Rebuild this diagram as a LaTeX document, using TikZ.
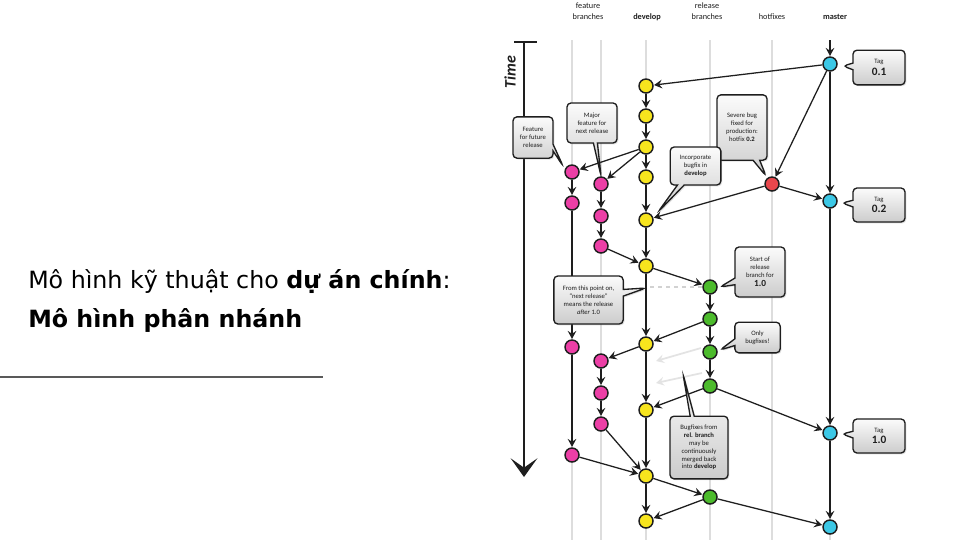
\documentclass[tikz,border=0pt]{standalone}
\usepackage{fontspec}
\setmainfont{DejaVu Sans}
\newfontfamily\dgfont{Carlito}
\usetikzlibrary{arrows.meta,shapes.callouts,shadows}

\definecolor{cyanC}{HTML}{3CC8E6}
\definecolor{yelC}{HTML}{F7E51E}
\definecolor{pinkC}{HTML}{EC3FA6}
\definecolor{redC}{HTML}{E8474C}
\definecolor{grnC}{HTML}{4CBB2C}
\definecolor{laneC}{HTML}{DDDDDD}
\definecolor{ink}{HTML}{1E1E1E}

\tikzset{
  commit/.style={circle, draw=ink, line width=1.1pt, minimum size=10.5pt, inner sep=0pt},
  devc/.style={commit, fill=yelC},
  featc/.style={commit, fill=pinkC},
  relc/.style={commit, fill=grnC},
  hotc/.style={commit, fill=redC},
  mastc/.style={commit, fill=cyanC},
  flow/.style={draw=ink, line width=0.95pt, -{Stealth[length=6pt,width=6.5pt,inset=2.2pt]}, shorten >=0.3pt},
  ghost/.style={draw=gray!22, line width=1.3pt, -{Stealth[length=6pt,width=6.5pt,inset=2.2pt]}},
  lanebar/.style={draw=laneC, line width=1.5pt},
  note/.style={rectangle callout, rounded corners=3pt, draw=ink, line width=1pt,
    top color=gray!3, bottom color=gray!40, align=center, text=ink,
    font=\dgfont\fontsize{5}{5.9}\selectfont, inner sep=1pt,
    callout pointer width=5pt,
    drop shadow={opacity=0.25, shadow xshift=1pt, shadow yshift=-1pt}},
  head/.style={font=\dgfont\fontsize{6.2}{7.8}\selectfont, align=center, text=ink}
}
\newcommand{\tagbig}[1]{{\bfseries\fontsize{8.5}{9}\selectfont #1}}

\begin{document}
\begin{tikzpicture}[x=0.75pt, y=-0.75pt]
\fill[white] (0,0) rectangle (960,540);
\useasboundingbox (0,0) rectangle (960,540);

% left title
\node[anchor=base west, inner sep=0pt, font=\fontsize{17.8}{23}\selectfont] (t1) at (28,288) {Mô hình kỹ thuật cho \textbf{dự án chính}:};
\node[anchor=base west, inner sep=0pt, font=\fontsize{17.8}{23}\selectfont\bfseries] (t2) at (28,327) {Mô hình phân nhánh};
\coordinate (ruleA) at (0,377);
\coordinate (ruleB) at (323,377);
\draw[gray!70!black, line width=0.8pt] (ruleA) -- (ruleB);

% headers
\node[head] (hfeat) at (588,11) {feature\\branches};
\node[head, font=\dgfont\bfseries\fontsize{6.2}{7.8}\selectfont] (hdev) at (647,17) {develop};
\node[head] (hrel) at (707,11) {release\\branches};
\node[head] (hhot) at (772,17) {hotfixes};
\node[head, font=\dgfont\bfseries\fontsize{6.2}{7.8}\selectfont] (hmas) at (835,17) {master};

% lanes
\foreach \lx/\ln in {572/la,601/lb,646/lc,710/ld,772/le,830/lf}{
  \coordinate (\ln top) at (\lx,40);
  \coordinate (\ln bot) at (\lx,540);
  \draw[lanebar] (\ln top) -- (\ln bot);
}

% time axis
\coordinate (tL) at (514,42);
\coordinate (tR) at (537,42);
\coordinate (tTop) at (524,42);
\coordinate (tBot) at (524,477);
\draw[ink, line width=2.2pt] (tL) -- (tR);
\draw[ink, line width=2pt, -{Stealth[length=14pt,width=20pt,inset=7pt]}] (tTop) -- (tBot);
\node[rotate=90, font=\dgfont\bfseries\itshape\fontsize{12}{12}\selectfont, text=ink] (time) at (510,72) {Time};

% commits: master
\node[mastc] (m1) at (830,64) {};
\node[mastc] (m2) at (830,201) {};
\node[mastc] (m3) at (830,433) {};
\node[mastc] (m4) at (830,527) {};
% hotfix
\node[hotc] (hf) at (772,184) {};
% develop
\foreach \i/\yy in {1/86,2/116,3/147,4/177,5/220,6/266,7/344,8/410,9/476,10/521}{
  \node[devc] (d\i) at (646,\yy) {};
}
% feature A
\foreach \i/\yy in {1/172,2/203,3/347,4/455}{
  \node[featc] (fa\i) at (572,\yy) {};
}
% feature B
\foreach \i/\yy in {1/184,2/216,3/246,4/361,5/393,6/424}{
  \node[featc] (fb\i) at (601,\yy) {};
}
% release
\foreach \i/\yy in {1/287,2/319,3/352,4/386,5/497}{
  \node[relc] (r\i) at (710,\yy) {};
}

% connectors
\coordinate (mtop) at (830,40);
\draw[flow] (mtop) -- (m1);
\draw[flow] (m1) -- (d1);
\draw[flow] (m1) -- (m2);
\draw[flow] (m1) -- (hf);
\foreach \a/\b in {1/2,2/3,3/4,4/5,5/6,6/7,7/8,8/9,9/10}{
  \draw[flow] (d\a) -- (d\b);
}
\draw[flow] (d3) -- (fa1);
\draw[flow] (d3) -- (fb1);
\draw[flow] (fa1) -- (fa2);
\draw[flow] (fa2) -- (fa3);
\draw[flow] (fa3) -- (fa4);
\draw[flow] (fa4) -- (d9);
\draw[flow] (fb1) -- (fb2);
\draw[flow] (fb2) -- (fb3);
\draw[flow] (fb3) -- (d6);
\draw[flow] (d7) -- (fb4);
\draw[flow] (fb4) -- (fb5);
\draw[flow] (fb5) -- (fb6);
\draw[flow] (fb6) -- (d9);
\draw[flow] (hf) -- (d5);
\draw[flow] (hf) -- (m2);
\draw[flow] (d6) -- (r1);
\draw[flow] (r1) -- (r2);
\draw[flow] (r2) -- (r3);
\draw[flow] (r3) -- (r4);
\draw[flow] (r2) -- (d7);
\draw[flow] (r4) -- (d8);
\draw[flow] (r4) -- (m3);
\draw[flow] (m2) -- (m3);
\draw[flow] (m3) -- (m4);
\draw[flow] (d9) -- (r5);
\draw[flow] (r5) -- (d10);
\draw[flow] (r5) -- (m4);

% ghost merges and dashed marker
\coordinate (g1s) at (701,348);
\coordinate (g1e) at (656,361);
\coordinate (g2s) at (702,373);
\coordinate (g2e) at (656,383);
\draw[ghost] (g1s) -- (g1e);
\draw[ghost] (g2s) -- (g2e);
\coordinate (dash0) at (650,287);
\draw[gray!35, line width=1pt, dashed] (dash0) -- (r1);

% callout pointer tips
\coordinate (p1) at (843,66);
\coordinate (p2) at (563,166);
\coordinate (p3) at (601,176);
\coordinate (p4) at (766,176);
\coordinate (p5) at (658,212);
\coordinate (p6) at (842,203);
\coordinate (p7) at (720,287);
\coordinate (p8) at (646,288);
\coordinate (p9) at (720,350);
\coordinate (p10) at (683,374);
\coordinate (p11) at (842,434);

% callouts
\node[note, minimum width=39pt, minimum height=26pt, callout absolute pointer=(p1)] (c1) at (879,67.5) {Tag\\[1pt]\tagbig{0.1}};
\node[note, minimum width=30pt, minimum height=31pt, callout absolute pointer=(p2)] (c2) at (533,137.5) {Feature\\for future\\release};
\node[note, minimum width=37.5pt, minimum height=30pt, callout pointer width=3pt, callout absolute pointer=(p3)] (c3) at (592,123) {Major\\feature for\\next release};
\node[note, minimum width=37.5pt, minimum height=49pt, callout absolute pointer=(p4)] (c4) at (742,127.5) {Severe bug\\fixed for\\production:\\hotfix \textbf{0.2}};
\node[note, minimum width=38pt, minimum height=28.5pt, callout absolute pointer=(p5)] (c5) at (695.5,166) {Incorporate\\bugfix in\\\textbf{develop}};
\node[note, minimum width=39pt, minimum height=25.5pt, callout absolute pointer=(p6)] (c6) at (879,205) {Tag\\[1pt]\tagbig{0.2}};
\node[note, minimum width=37.5pt, minimum height=37.5pt, callout absolute pointer=(p7)] (c7) at (760,272) {Start of\\release\\branch for\\[1pt]{\bfseries\fontsize{7}{7.5}\selectfont 1.0}};
\node[note, minimum width=52pt, minimum height=36pt, callout absolute pointer=(p8)] (c8) at (588.5,300) {From this point on,\\“next release”\\means the release\\\textit{after} 1.0};
\node[note, minimum width=34pt, minimum height=23pt, callout absolute pointer=(p9)] (c9) at (757.5,337.5) {Only\\bugfixes!};
\node[note, minimum width=43.5pt, minimum height=47pt, callout pointer width=3pt, callout absolute pointer=(p10)] (c10) at (699,447.5) {Bugfixes from\\\textbf{rel. branch}\\may be\\continuously\\merged back\\into \textbf{develop}};
\node[note, minimum width=39pt, minimum height=25.5pt, callout absolute pointer=(p11)] (c11) at (879,436) {Tag\\[1pt]\tagbig{1.0}};
\end{tikzpicture}
\end{document}
